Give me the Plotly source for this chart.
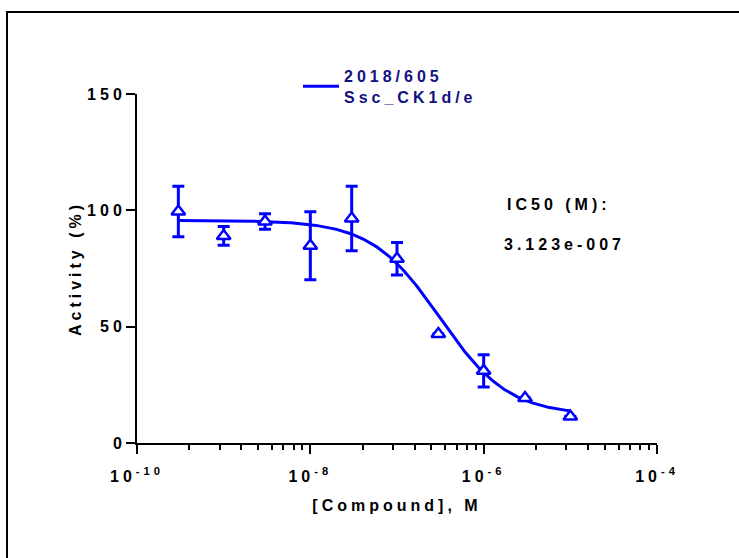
import numpy as np
import plotly.graph_objects as go

# ---- data ----
concentration_M = [3e-10, 1e-9, 3e-9, 1e-8, 3e-8, 1e-7, 3e-7, 1e-6, 3e-6, 1e-5]
activity_pct = [99.5, 89.0, 95.2, 84.8, 96.5, 79.2, 46.8, 31.0, 19.3, 11.4]
activity_sd = [10.9, 4.0, 3.3, 14.6, 13.9, 7.0, None, 6.9, None, None]

# fitted 4-parameter logistic (IC50 shown on the chart)
fit_top = 95.7
fit_bottom = 12.0
fit_hill = 1.1
ic50_M = 3.123e-7

series_name = "2018/605<br>Ssc_CK1d/e"
ic50_label = "IC50 (M):"
ic50_text = "3.123e-007"
x_title = "[Compound], M"
y_title = "Activity (%)"

y_tick_vals = [0, 50, 100, 150]
x_tick_vals = [1e-10, 1e-8, 1e-6, 1e-4]
x_tick_text = ["10<sup>-10</sup>", "10<sup>-8</sup>", "10<sup>-6</sup>", "10<sup>-4</sup>"]
x_minor_bases = [1e-10, 1e-8, 1e-6]
x_minor_multipliers = [4, 9, 16, 25, 36, 49, 64, 81]

BLUE = "#0000FF"
NAVY = "#11117f"
FONT = "Liberation Sans, Arial, sans-serif"

# curve from the fitted model
xc = np.logspace(np.log10(concentration_M[0]), np.log10(concentration_M[-1]), 300)
yc = fit_bottom + (fit_top - fit_bottom) / (1 + (xc / ic50_M) ** fit_hill)

minor_vals = [b * m for b in x_minor_bases for m in x_minor_multipliers]

fig = go.Figure()
fig.add_trace(go.Scatter(
    x=xc, y=yc, mode="lines", name=series_name,
    line=dict(color=BLUE, width=3), showlegend=True,
))
fig.add_trace(go.Scatter(
    x=concentration_M, y=activity_pct, mode="markers", showlegend=False,
    marker=dict(symbol="triangle-up", size=12, color="white",
                line=dict(color=BLUE, width=2.5)),
    error_y=dict(type="data", array=activity_sd, visible=True,
                 color=BLUE, thickness=3, width=6),
))

axis_font = dict(family=FONT, size=16, color="black", weight="bold")

fig.update_xaxes(
    type="log", range=[-10, -4],
    tickmode="array", tickvals=x_tick_vals, ticktext=x_tick_text,
    showline=True, linewidth=2, linecolor="black",
    ticks="outside", ticklen=9, tickwidth=2, tickcolor="black",
    tickfont=axis_font, ticklabelstandoff=9,
    minor=dict(tickmode="array", tickvals=minor_vals, ticks="outside",
               ticklen=5, tickwidth=2, tickcolor="black", showgrid=False),
    showgrid=False, zeroline=False, automargin=False,
    title=dict(text=x_title, font=axis_font, standoff=16),
)
fig.update_yaxes(
    range=[0, 150], tickmode="array", tickvals=y_tick_vals,
    showline=True, linewidth=2, linecolor="black",
    ticks="outside", ticklen=9, tickwidth=2, tickcolor="black",
    tickfont=axis_font, ticklabelstandoff=-3,
    showgrid=False, zeroline=False, automargin=False,
    title=dict(text=y_title, font=axis_font, standoff=13),
)

W, H = 739, 558
L, R, T, B = 137, 82, 94, 115
pw, ph = W - L - R, H - T - B

def px(x):
    return (x - L) / pw

def py(y):
    return (H - B - y) / ph

ann_font = dict(family=FONT, size=16, color="black", weight="bold")
fig.add_annotation(text=ic50_label, x=px(559), y=py(204), xref="paper", yref="paper",
                   xanchor="center", yanchor="middle", showarrow=False, font=ann_font)
fig.add_annotation(text=ic50_text, x=px(564), y=py(244), xref="paper", yref="paper",
                   xanchor="center", yanchor="middle", showarrow=False, font=ann_font)

# outer frame
fig.add_shape(type="rect", xref="paper", yref="paper",
              x0=px(7), y0=py(12), x1=px(W + 20), y1=py(H + 20),
              line=dict(color="black", width=2), fillcolor="rgba(0,0,0,0)")

fig.update_layout(
    template="none",
    width=W, height=H,
    margin=dict(l=L, r=R, t=T, b=B, autoexpand=False),
    paper_bgcolor="white", plot_bgcolor="white",
    font=dict(family=FONT, color="black"),
    legend=dict(x=px(298), y=py(59), xanchor="left", yanchor="top",
                bgcolor="rgba(0,0,0,0)", borderwidth=0, valign="middle",
                itemwidth=36,
                font=dict(family=FONT, size=16, color=NAVY, weight="bold")),
)

post = ("var s=document.createElement('style');"
        "s.textContent='body{margin:0 !important;} .main-svg text{letter-spacing:4px;} "
        ".legend .scrollbox{clip-path:none !important;}';"
        "document.head.appendChild(s);")
fig.write_html("out.html", post_script=post, config={"displayModeBar": False})
